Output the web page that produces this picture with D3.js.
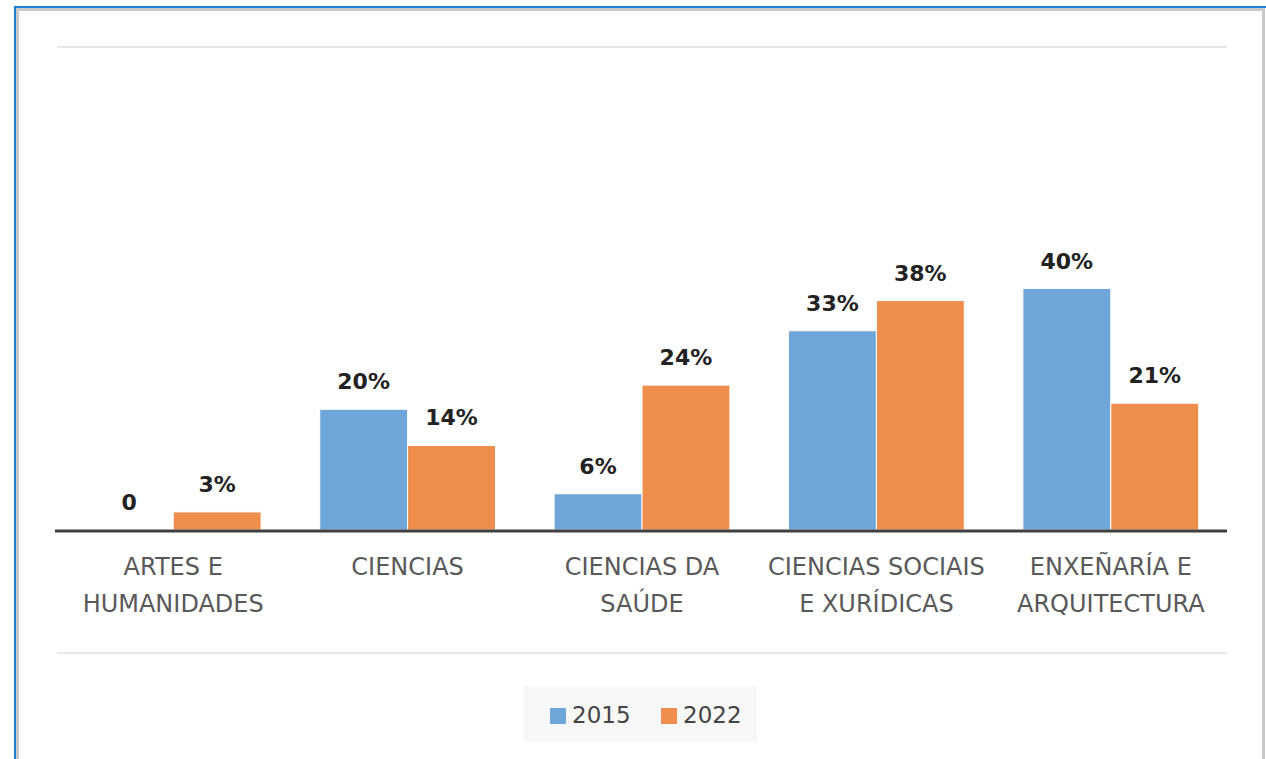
<!DOCTYPE html>
<html>
<head>
<meta charset="utf-8">
<script src="https://cdn.jsdelivr.net/npm/d3@7"></script>
<style>
  body { margin: 0; background: #fff; }
  svg { display: block; font-family: "DejaVu Sans", sans-serif; }
</style>
</head>
<body>
<div id="chart-area"></div>
<script>
// data
var categories = [["ARTES E", "HUMANIDADES"], ["CIENCIAS"], ["CIENCIAS DA", "SAÚDE"],
                  ["CIENCIAS SOCIAIS", "E XURÍDICAS"], ["ENXEÑARÍA E", "ARQUITECTURA"]];
var years = ["2015", "2022"];
var values2015 = [0, 20, 6, 33, 40];
var values2022 = [3, 14, 24, 38, 21];
var colors = ["#6fa6d9", "#ee8e4c"];

var W = 1266, H = 759;
var svg = d3.select("#chart-area").append("svg")
  .attr("width", W).attr("height", H);

// frame
svg.append("rect").attr("x", 15).attr("y", 7).attr("width", 1260).attr("height", 800)
  .attr("fill", "none").attr("stroke", "#1c7fd6").attr("stroke-width", 2);
svg.append("rect").attr("x", 17.5).attr("y", 9.5).attr("width", 1246).attr("height", 800)
  .attr("fill", "none").attr("stroke", "#c9c9c9").attr("stroke-width", 3);

var x0 = d3.scaleBand().domain(d3.range(categories.length)).range([56, 1228]).paddingInner(0.25).paddingOuter(0.125);
var x1 = d3.scaleBand().domain(years).range([0, x0.bandwidth()]);
var y = d3.scaleLinear().domain([0, 80]).range([530, 47]);

// light lines top and bottom
svg.append("line").attr("x1", 57).attr("x2", 1227).attr("y1", y(80)).attr("y2", y(80))
  .attr("stroke", "#e8e8e8").attr("stroke-width", 2);
svg.append("line").attr("x1", 57).attr("x2", 1227).attr("y1", 653).attr("y2", 653)
  .attr("stroke", "#e8e8e8").attr("stroke-width", 2);

var series = [values2015, values2022];
series.forEach(function (vals, si) {
  var g = svg.append("g");
  g.selectAll("rect").data(vals).enter().append("rect")
    .attr("x", function (d, i) { return x0(i) + x1(years[si]); })
    .attr("width", x1.bandwidth())
    .attr("y", function (d) { return y(d); })
    .attr("height", function (d) { return y(0) - y(d); })
    .attr("fill", colors[si])
    .attr("stroke", "#fff").attr("stroke-width", 1);
  g.selectAll("text").data(vals).enter().append("text")
    .attr("x", function (d, i) { return x0(i) + x1(years[si]) + x1.bandwidth() / 2; })
    .attr("y", function (d) { return y(d) - 20; })
    .attr("text-anchor", "middle")
    .attr("font-size", 22).attr("font-weight", "bold").attr("fill", "#222")
    .text(function (d) { return d === 0 ? "0" : d + "%"; });
});

// baseline
svg.append("line").attr("x1", 55).attr("x2", 1227).attr("y1", 531).attr("y2", 531)
  .attr("stroke", "#404040").attr("stroke-width", 3);

// category labels
var lab = svg.append("g").selectAll("text").data(categories).enter().append("text")
  .attr("text-anchor", "middle").attr("font-size", 24).attr("fill", "#595959")
  .attr("x", function (d, i) { return x0(i) + x0.bandwidth() / 2; })
  .attr("y", 575);
lab.selectAll("tspan").data(function (d) { return d; }).enter().append("tspan")
  .attr("x", function () { return d3.select(this.parentNode).attr("x"); })
  .attr("dy", function (d, i) { return i === 0 ? 0 : 37; })
  .text(function (d) { return d; });

// legend
var leg = svg.append("g");
leg.append("rect").attr("x", 524).attr("y", 686).attr("width", 233).attr("height", 56).attr("fill", "#f7f7f7");
var legX = [550, 661];
years.forEach(function (yr, i) {
  leg.append("rect").attr("x", legX[i]).attr("y", 708).attr("width", 16).attr("height", 16).attr("fill", colors[i]);
  leg.append("text").attr("x", legX[i] + 22).attr("y", 723).attr("font-size", 23).attr("fill", "#444").text(yr);
});
</script>
</body>
</html>
